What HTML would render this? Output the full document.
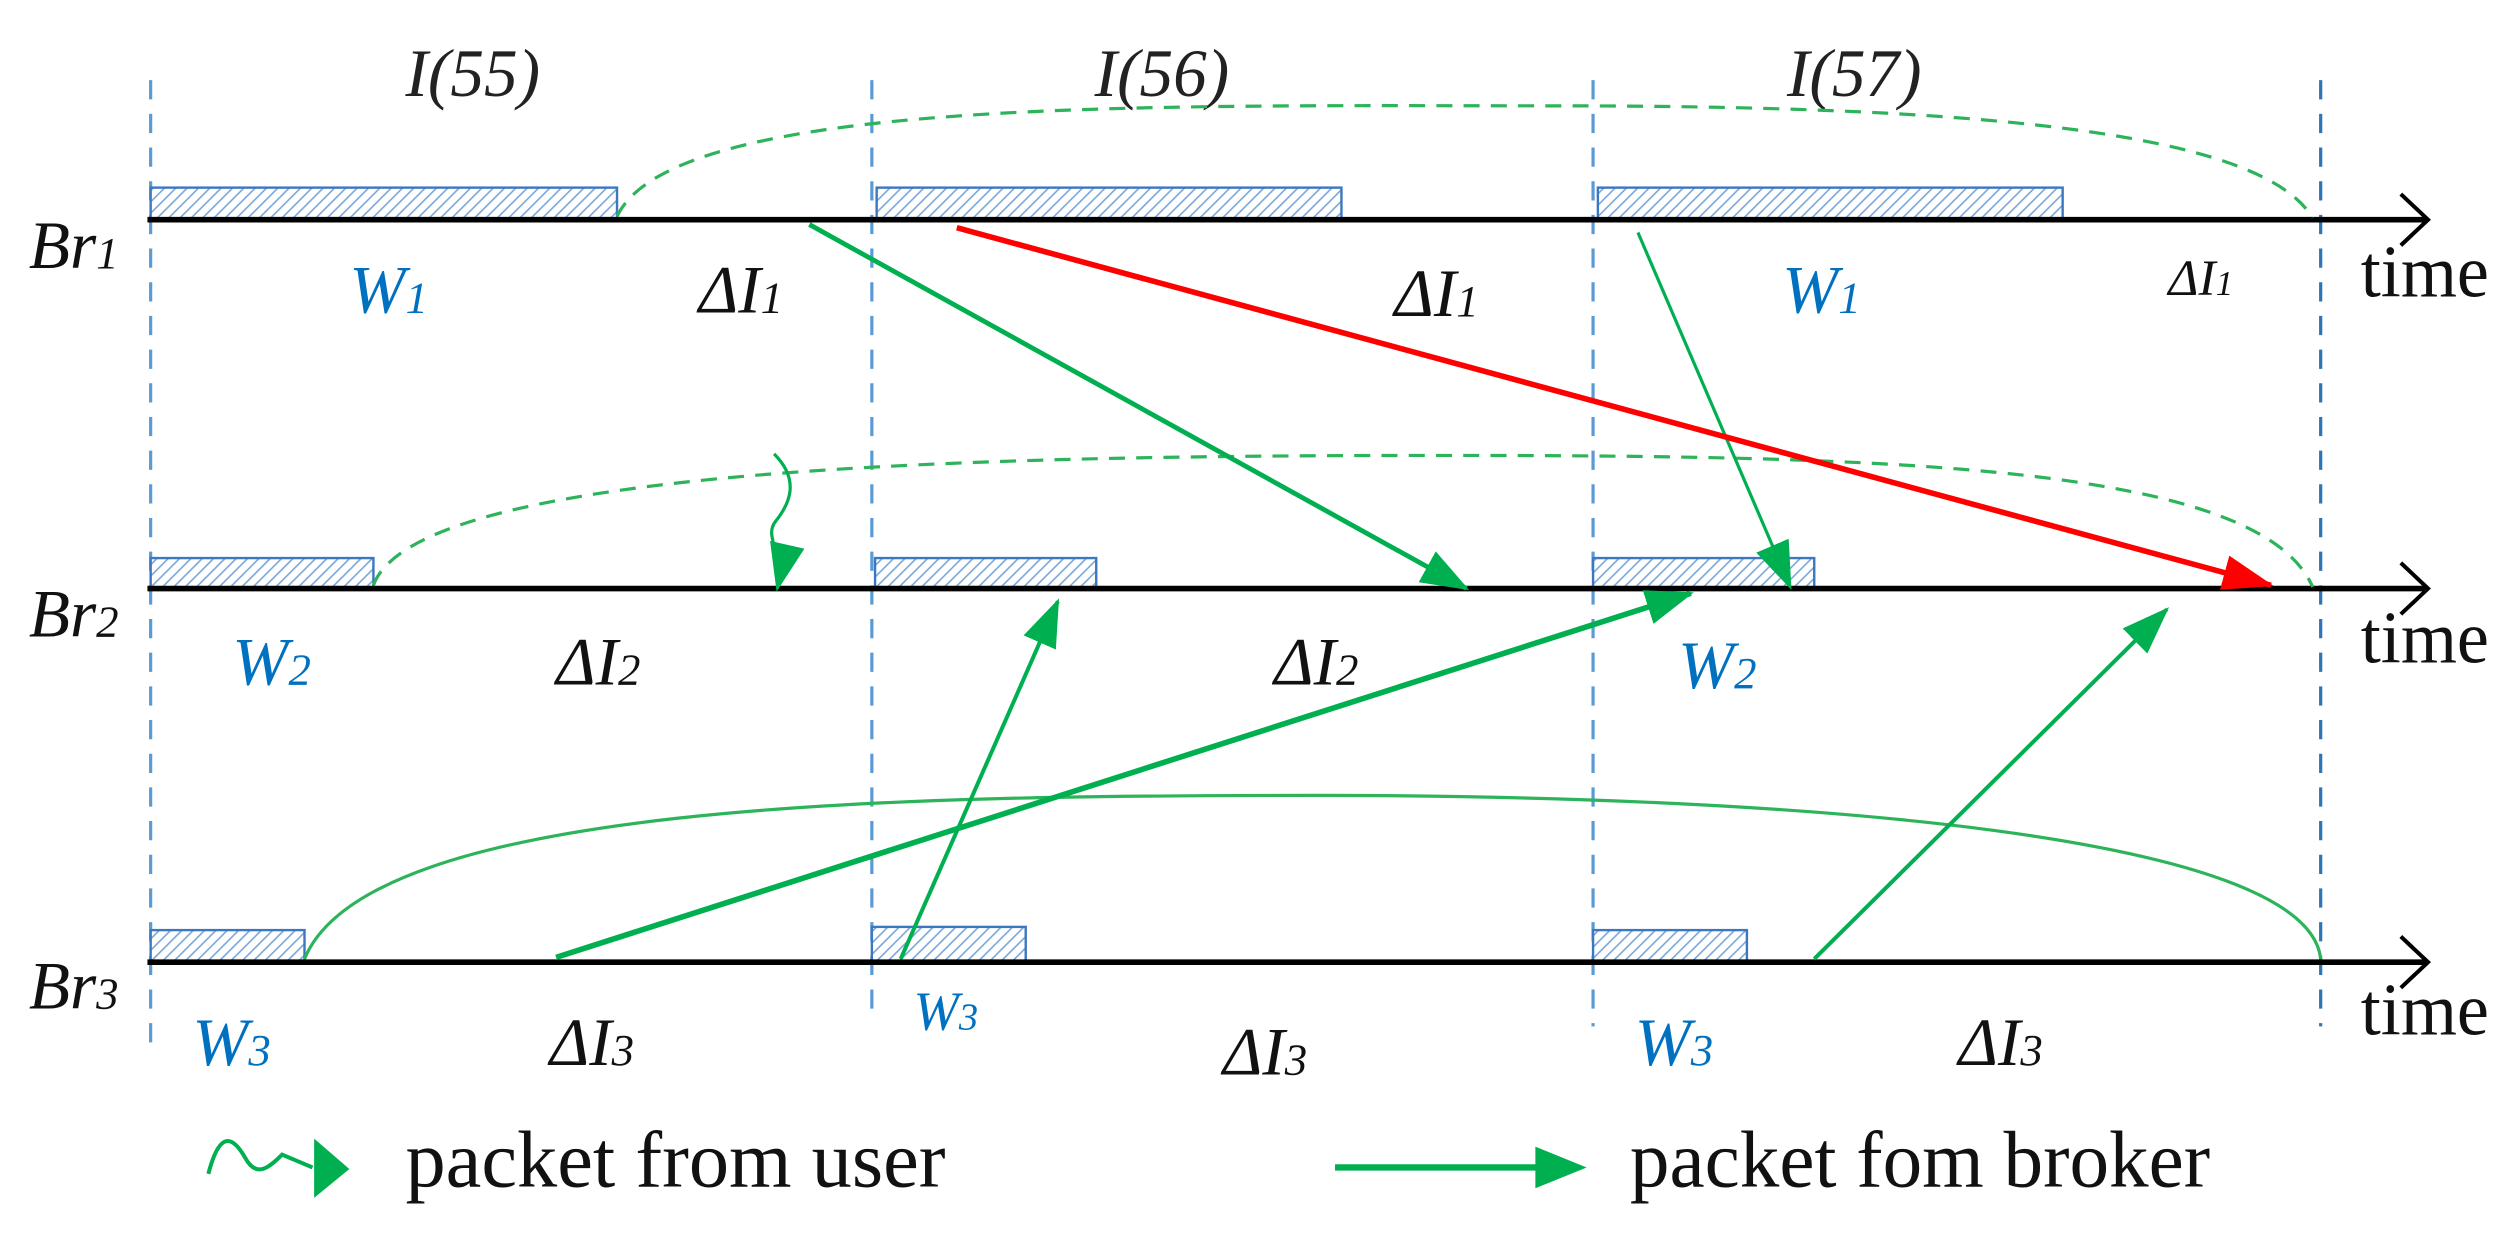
<!DOCTYPE html>
<html><head><meta charset="utf-8"><style>
html,body{margin:0;padding:0;background:#fff;}
svg{display:block;}
text{font-family:"Liberation Serif",serif;}
</style></head><body>
<svg width="2513" height="1238" viewBox="0 0 1568 772" preserveAspectRatio="none" xmlns="http://www.w3.org/2000/svg">
<defs>
<pattern id="h" width="5" height="5" patternUnits="userSpaceOnUse" patternTransform="rotate(45)">
<rect width="5" height="5" fill="#fff"/><line x1="0" y1="0" x2="0" y2="5" stroke="#7aa7d8" stroke-width="2"/>
</pattern>
<marker id="agb" markerWidth="30" markerHeight="22" refX="28" refY="11" orient="auto" markerUnits="userSpaceOnUse">
<path d="M0,0 L30,11 L0,22 Z" fill="#00b050"/></marker>
<marker id="ar" markerWidth="32" markerHeight="22" refX="30" refY="11" orient="auto" markerUnits="userSpaceOnUse">
<path d="M0,0 L32,11 L0,22 Z" fill="#f00"/></marker>
</defs>
<g stroke="#5b9bd5" stroke-width="2" stroke-dasharray="12,9">
<line x1="94" y1="50" x2="94" y2="650"/>
<line x1="544" y1="50" x2="544" y2="635"/>
<line x1="994" y1="50" x2="994" y2="640"/>
<line x1="1448" y1="50" x2="1448" y2="640" stroke="#2e75b6"/>
</g>
<g font-size="42" font-style="italic" fill="#222" text-anchor="middle">
<text x="295" y="60">I(55)</text><text x="725" y="60">I(56)</text><text x="1157" y="60">I(57)</text>
</g>
<g fill="url(#h)" stroke="#3c78c0" stroke-width="1.5">
<rect x="94" y="117" width="291" height="20"/><rect x="547" y="117" width="290" height="20"/><rect x="997" y="117" width="290" height="20"/>
<rect x="94" y="348" width="139" height="19"/><rect x="546" y="348" width="138" height="19"/><rect x="994" y="348" width="138" height="19"/>
<rect x="94" y="580" width="96" height="20"/><rect x="544" y="578" width="96" height="22"/><rect x="994" y="580" width="96" height="20"/>
</g>
<g stroke="#000" stroke-width="3.5" fill="none">
<line x1="92" y1="137" x2="1515" y2="137"/><polyline points="1498,121 1515,137 1498,153" stroke-width="2.5"/>
<line x1="92" y1="367" x2="1515" y2="367"/><polyline points="1498,351 1515,367 1498,383" stroke-width="2.5"/>
<line x1="92" y1="600" x2="1515" y2="600"/><polyline points="1498,584 1515,600 1498,616" stroke-width="2.5"/>
</g>
<g fill="none" stroke="#2db35a" stroke-width="2">
<path d="M385,135 C420,60 720,66 970,66 C1220,66 1410,80 1443,136" stroke-dasharray="10,7"/>
<path d="M233,365 C260,290 620,284 900,284 C1180,284 1410,290 1443,366" stroke-dasharray="10,7"/>
<path d="M190,598 C230,500 560,496 820,496 C1120,496 1440,520 1448,598"/>
</g>
<g fill="none">
<line x1="505" y1="140" x2="915" y2="367" stroke="#00b050" stroke-width="3" marker-end="url(#agb)"/>
<line x1="1022" y1="145" x2="1117" y2="366" stroke="#00b050" stroke-width="2" marker-end="url(#agb)"/>
<line x1="597" y1="142" x2="1417" y2="365" stroke="#f00" stroke-width="3.5" marker-end="url(#ar)"/>
<line x1="347" y1="597" x2="1055" y2="370" stroke="#00b050" stroke-width="3.5" marker-end="url(#agb)"/>
<line x1="562" y1="598" x2="660" y2="375" stroke="#00b050" stroke-width="2.5" marker-end="url(#agb)"/>
<line x1="1132" y1="598" x2="1352" y2="380" stroke="#00b050" stroke-width="2.5" marker-end="url(#agb)"/>
<path d="M483,283 C500,300 492,315 484,325 C476,335 490,345 485,367" stroke="#00b050" stroke-width="2" marker-end="url(#agb)"/>
</g>
<g font-size="42" font-style="italic" fill="#111">
<text x="18" y="167">Br<tspan font-size="28">1</tspan></text>
<text x="18" y="397">Br<tspan font-size="28">2</tspan></text>
<text x="18" y="629">Br<tspan font-size="28">3</tspan></text>
</g>
<g font-size="46" fill="#111">
<text x="1473" y="185" textLength="80" lengthAdjust="spacingAndGlyphs">time</text><text x="1473" y="413" textLength="80" lengthAdjust="spacingAndGlyphs">time</text><text x="1473" y="645" textLength="80" lengthAdjust="spacingAndGlyphs">time</text>
</g>
<g font-size="42" font-style="italic" fill="#0070c0">
<text x="218" y="195">W<tspan font-size="28">1</tspan></text>
<text x="1112" y="195">W<tspan font-size="28">1</tspan></text>
<text x="145" y="427">W<tspan font-size="28">2</tspan></text>
<text x="1047" y="429">W<tspan font-size="28">2</tspan></text>
<text x="120" y="664">W<tspan font-size="28">3</tspan></text>
<text x="570" y="642" font-size="34">W<tspan font-size="24">3</tspan></text>
<text x="1020" y="664">W<tspan font-size="28">3</tspan></text>
</g>
<g font-size="42" font-style="italic" fill="#111">
<text x="436" y="195">ΔI<tspan font-size="28">1</tspan></text>
<text x="870" y="197">ΔI<tspan font-size="28">1</tspan></text>
<text x="1353" y="184" font-size="32">ΔI<tspan font-size="22">1</tspan></text>
<text x="347" y="427">ΔI<tspan font-size="28">2</tspan></text>
<text x="795" y="427">ΔI<tspan font-size="28">2</tspan></text>
<text x="343" y="664">ΔI<tspan font-size="28">3</tspan></text>
<text x="763" y="670">ΔI<tspan font-size="28">3</tspan></text>
<text x="1222" y="664">ΔI<tspan font-size="28">3</tspan></text>
</g>
<path d="M130,732 C137,705 145,708 153,722 C160,735 168,728 176,720 L195,728" fill="none" stroke="#00b050" stroke-width="2.5"/>
<path d="M196,710 L218,729 L196,747 Z" fill="#00b050"/>
<text x="253" y="740" font-size="50" fill="#111" textLength="337" lengthAdjust="spacingAndGlyphs">packet from user</text>
<line x1="833" y1="728" x2="960" y2="728" stroke="#00b050" stroke-width="4"/>
<path d="M958,715 L990,728 L958,741 Z" fill="#00b050"/>
<text x="1017" y="740" font-size="50" fill="#111" textLength="362" lengthAdjust="spacingAndGlyphs">packet fom broker</text>
</svg>
</body></html>
